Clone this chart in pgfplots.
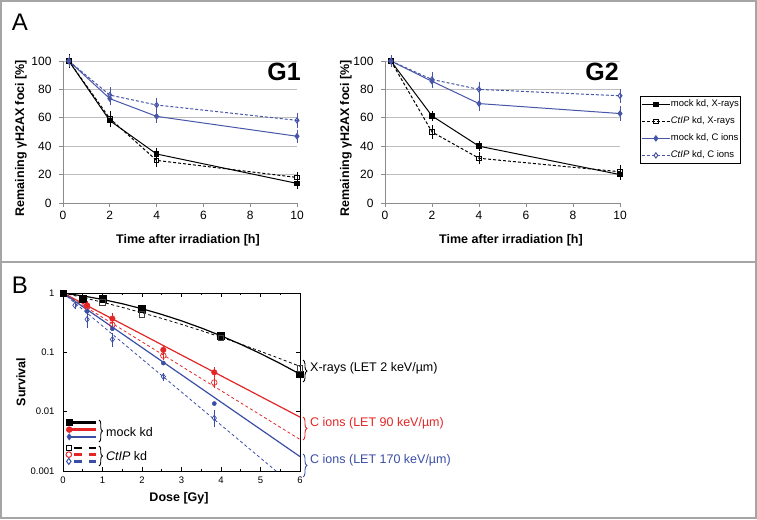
\documentclass[border=0pt]{standalone}
\usepackage{pgfplots}
\pgfplotsset{compat=1.18}
\usepackage{fontspec}
\setmainfont{Liberation Sans}
\usetikzlibrary{decorations.pathreplacing}
\definecolor{Ablue}{RGB}{72,86,168}
\definecolor{Bred}{RGB}{228,38,38}
\definecolor{Bblue}{RGB}{58,78,165}
\definecolor{framegray}{RGB}{165,165,165}
\definecolor{gridgray}{RGB}{190,190,190}
\definecolor{axgray}{RGB}{140,140,140}

\pgfplotsset{
  panelA/.style={
    scale only axis, height=142pt,
    xmin=0, xmax=10, ymin=0, ymax=100,
    xtick={0,2,...,10}, ytick={0,20,...,100},
    axis x line=bottom, axis y line=left,
    axis line style={axgray, -, line width=0.8pt},
    ymajorgrids, grid style={gridgray, line width=0.8pt},
    tick align=outside, major tick length=4pt,
    tick style={axgray, line width=0.8pt},
    tick label style={font=\fontsize{12}{12}\selectfont},
    yticklabel style={xshift=-4pt},
    xticklabel style={yshift=-1pt},
    /pgf/number format/assume math mode=true,
    clip=false,
  },
  eb/.style={error bars/.cd, y dir=both, y explicit,
    error mark options={solid, mark size=3pt, line width=0.6pt},
    error bar style={solid, line width=0.6pt}},
  mockX/.style={black, line width=1pt, mark=square*, mark size=2.2pt, mark options={solid}, eb},
  ctipX/.style={black, line width=1pt, dash pattern=on 3pt off 2pt, mark=square, mark size=2.2pt, mark options={solid, fill=white}, eb},
  mockC/.style={Ablue, line width=1pt, mark=diamond*, mark size=2.6pt, mark options={solid}, eb},
  ctipC/.style={Ablue, line width=1pt, dash pattern=on 3pt off 2pt, mark=diamond, mark size=2.6pt, mark options={solid, fill=white}, eb},
}

\begin{document}
\begin{tikzpicture}[x=1pt,y=1pt]
\useasboundingbox (0,0) rectangle (757,519);
\draw[framegray, line width=2pt] (1,1) rectangle (756,518);
\draw[framegray, line width=2pt] (0,257) -- (757,257);

% ---------------- Panel A, G1
\begin{axis}[panelA, at={(63pt,316pt)}, anchor=south west, width=234pt]
\addplot+[mockX] table[y error=e] {
x y e
0.25 100 2.5
2 58 2.5
4 34.5 2
10 13.8 1.5
};
\addplot+[ctipX] table[y error=e] {
x y e
0.25 100 2.5
2 59.5 3
4 30 2.5
10 18 1.5
};
\addplot+[mockC] table[y error=e] {
x y e
0.25 100 2
2 73.5 2.5
4 61 2.5
10 47 2.5
};
\addplot+[ctipC] table[y error=e] {
x y e
0.25 100 2
2 76 3.5
4 69 3
10 58.2 3
};
\end{axis}

% ---------------- Panel A, G2
\begin{axis}[panelA, at={(385pt,316pt)}, anchor=south west, width=235pt,
  legend style={at={(1.085,0.7535)}, anchor=north west, draw=black, line width=0.8pt,
    font=\fontsize{9.5}{11}\selectfont, inner xsep=1pt, inner ysep=3pt, row sep=7pt,
    nodes={inner sep=0.5pt, text height=7pt, text depth=2pt}},
  legend cell align=left,
  legend image code/.code={\draw[mark repeat=2,mark phase=2,#1] plot coordinates {(0pt,0pt)(14pt,0pt)(28pt,0pt)};},
]
\addplot+[mockX] table[y error=e] {
x y e
0.25 100 2
2 61.3 1.5
4 40 1.5
10 20 1.5
};
\addlegendentry{mock kd, X-rays}
\addplot+[ctipX] table[y error=e] {
x y e
0.25 100 2
2 50 2.5
4 31.5 2
10 22 2.5
};
\addlegendentry{\textit{CtIP} kd, X-rays}
\addplot+[mockC] table[y error=e] {
x y e
0.25 100 2
2 85.7 2.5
4 70 3
10 63 3
};
\addlegendentry{mock kd, C ions}
\addplot+[ctipC] table[y error=e] {
x y e
0.25 100 2
2 87 3
4 80 3
10 75.5 3
};
\addlegendentry{\textit{CtIP} kd, C ions}
\end{axis}

\node[font=\fontsize{24}{24}\selectfont] at (20,497) {A};
\node[font=\bfseries\fontsize{25}{25}\selectfont, anchor=east, inner sep=0pt] at (301,447) {G1};
\node[font=\bfseries\fontsize{25}{25}\selectfont, anchor=east, inner sep=0pt] at (619,447) {G2};
\node[font=\bfseries\fontsize{12.5}{12.5}\selectfont, rotate=90] at (21,381) {Remaining γH2AX foci [\%]};
\node[font=\bfseries\fontsize{12.5}{12.5}\selectfont, rotate=90] at (346,381) {Remaining γH2AX foci [\%]};
\node[font=\bfseries\fontsize{12.5}{12.5}\selectfont] at (188,279) {Time after irradiation [h]};
\node[font=\bfseries\fontsize{12.5}{12.5}\selectfont] at (511,279) {Time after irradiation [h]};

% ---------------- Panel B
\begin{axis}[at={(63pt,48pt)}, anchor=south west, scale only axis, width=237pt, height=178pt,
  ymode=log, xmin=0, xmax=6, ymin=0.001, ymax=1,
  xtick={0,...,6}, minor x tick num=1,
  ytick={0.001,0.01,0.1,1}, yticklabels={0.001,0.01,0.1,1},
  tick align=inside, major tick length=4pt, minor tick length=2.5pt,
  axis line style={line width=0.8pt}, tick style={black, line width=0.6pt},
  tick label style={font=\fontsize{9.5}{9.5}\selectfont},
  yticklabel style={xshift=-5pt},
  xticklabel style={yshift=-2pt},
  /pgf/number format/assume math mode=true,
  log basis y=10,
]
% fits
\addplot[black, line width=1.2pt, forget plot] coordinates {
(0,1) (0.5,0.8947) (1,0.7788) (1.5,0.6595) (2,0.5434) (2.5,0.4355) (3,0.3396)
(3.5,0.2576) (4,0.1901) (4.5,0.1365) (5,0.0954) (5.5,0.0648) (6,0.0429)};
\addplot[black, line width=0.8pt, dash pattern=on 3pt off 2.5pt, forget plot] coordinates {
(0,1) (0.5,0.840) (1,0.698) (1.5,0.573) (2,0.465) (2.5,0.373) (3,0.296)
(3.5,0.232) (4,0.180) (4.5,0.138) (5,0.104) (5.5,0.078) (6,0.058)};
\addplot[Bred, line width=1.2pt, forget plot] coordinates {(0,1) (6,0.0081)};
\addplot[Bred, line width=0.8pt, dash pattern=on 3pt off 2.5pt, forget plot] coordinates {(0,1) (6,0.0034)};
\addplot[Bblue, line width=1.2pt, forget plot] coordinates {(0,1) (6,0.00175)};
\addplot[Bblue, line width=0.8pt, dash pattern=on 3pt off 2.5pt, forget plot] coordinates {(0,1) (6,0.00046)};
% data
\addplot[only marks, black, mark=square*, mark size=3.3pt] coordinates {
(0,1) (0.5,0.80) (1,0.81) (2,0.55) (4,0.19) (6,0.043)};
\addplot[only marks, black!75, mark=square, mark size=2.8pt, mark options={fill=white, line width=0.8pt}] coordinates {
(1,0.70) (2,0.44) (4,0.175) (6,0.054)};
\addplot[only marks, Bred, mark=*, mark size=2.8pt,
  error bars/.cd, y dir=both, y explicit, error mark options={mark size=2pt}] coordinates {
(0.61,0.62) +- (0,0.05) (1.25,0.37) +- (0,0.05) (2.54,0.11) +- (0,0.012) (3.83,0.046) +- (0,0.006)};
\addplot[only marks, Bred, mark=o, mark size=2.8pt, mark options={fill=white, line width=0.7pt},
  error bars/.cd, y dir=both, y explicit, error mark options={mark size=2pt}] coordinates {
(0.61,0.58) +- (0,0.04) (1.25,0.29) +- (0,0.03) (2.54,0.088) +- (0,0.008) (3.83,0.031) +- (0,0.004)};
\addplot[only marks, Bblue, mark=*, mark size=2.1pt] coordinates {
(0.61,0.49) (1.25,0.25) (2.54,0.066) (3.83,0.0137)};
\addplot[only marks, Bblue, mark=diamond, mark size=2.8pt, mark options={fill=white, line width=0.7pt},
  error bars/.cd, y dir=both, y explicit, error mark options={mark size=2pt}] coordinates {
(0.3,0.62) +- (0,0.03) (0.61,0.36) +- (0,0.08) (1.25,0.165) +- (0,0.033) (2.54,0.039) +- (0,0.003) (3.83,0.0078) +- (0,0.0019)};
\end{axis}

% legend groups of panel B (legend images only)
\begin{axis}[at={(63pt,48pt)}, anchor=south west, scale only axis, width=237pt, height=178pt,
  hide axis, xmin=0, xmax=1, ymin=0, ymax=1,
  legend style={at={(0.012,0.292)}, anchor=north west, draw=none, fill=none, inner sep=0pt,
    row sep=1pt, nodes={inner sep=0pt}, font=\fontsize{1}{1}\selectfont},
  legend image code/.code={\draw[mark repeat=2,mark phase=1,#1] plot coordinates {(0pt,0pt)(27pt,0pt)};},
]
\addlegendimage{black, line width=2.6pt, mark=square*, mark size=3.2pt, mark options={line width=0.4pt}}
\addlegendentry{\relax}
\addlegendimage{Bred, line width=2.6pt, mark=*, mark size=3pt, mark options={line width=0.4pt}}
\addlegendentry{\relax}
\addlegendimage{Bblue, line width=2.6pt, mark=diamond*, mark size=3.2pt, mark options={line width=0.4pt}}
\addlegendentry{\relax}
\end{axis}
\begin{axis}[at={(63pt,48pt)}, anchor=south west, scale only axis, width=237pt, height=178pt,
  hide axis, xmin=0, xmax=1, ymin=0, ymax=1,
  legend style={at={(0.012,0.146)}, anchor=north west, draw=none, fill=none, inner sep=0pt,
    row sep=1pt, nodes={inner sep=0pt}, font=\fontsize{1}{1}\selectfont},
  legend image code/.code={\draw[mark repeat=2,mark phase=1,#1] plot coordinates {(0pt,0pt)(27pt,0pt)};},
]
\addlegendimage{black, line width=2.4pt, dash pattern=on 8pt off 7pt, dash phase=10pt, mark=square, mark size=2.8pt, mark options={solid, fill=white, line width=1pt}}
\addlegendentry{\relax}
\addlegendimage{Bred, line width=2.4pt, dash pattern=on 8pt off 7pt, dash phase=10pt, mark=o, mark size=2.8pt, mark options={solid, fill=white, line width=1pt}}
\addlegendentry{\relax}
\addlegendimage{Bblue, line width=2.4pt, dash pattern=on 8pt off 7pt, dash phase=10pt, mark=diamond, mark size=3pt, mark options={solid, fill=white, line width=1pt}}
\addlegendentry{\relax}
\end{axis}

\draw[line width=0.9pt, decorate, decoration={brace, amplitude=3.5pt}] (99,99) -- (99,77);
\node[anchor=west, font=\fontsize{12.5}{12.5}\selectfont, inner sep=0pt] at (106,87) {mock kd};
\draw[line width=0.9pt, decorate, decoration={brace, amplitude=3.5pt}] (99,73) -- (99,53);
\node[anchor=west, font=\fontsize{12.5}{12.5}\selectfont, inner sep=0pt] at (106,63) {\textit{CtIP} kd};

\draw[black, line width=0.9pt, decorate, decoration={brace, amplitude=4pt}] (303,159) -- (303,137);
\node[anchor=west, font=\fontsize{12.5}{12.5}\selectfont, inner sep=0pt] at (310,151) {X-rays (LET 2 keV/µm)};
\draw[Bred, line width=0.9pt, decorate, decoration={brace, amplitude=4pt}] (303,102) -- (303,79);
\node[anchor=west, text=Bred, font=\fontsize{12.5}{12.5}\selectfont, inner sep=0pt] at (310,96) {C ions (LET 90 keV/µm)};
\draw[Bblue, line width=0.9pt, decorate, decoration={brace, amplitude=4pt}] (303,65) -- (303,42);
\node[anchor=west, text=Bblue, font=\fontsize{12.5}{12.5}\selectfont, inner sep=0pt] at (310,59) {C ions (LET 170 keV/µm)};

\node[font=\fontsize{24}{24}\selectfont] at (20,234) {B};
\node[font=\bfseries\fontsize{12.5}{12.5}\selectfont, rotate=90] at (21,137) {Survival};
\node[font=\bfseries\fontsize{12.5}{12.5}\selectfont] at (179,21) {Dose [Gy]};
\end{tikzpicture}
\end{document}
